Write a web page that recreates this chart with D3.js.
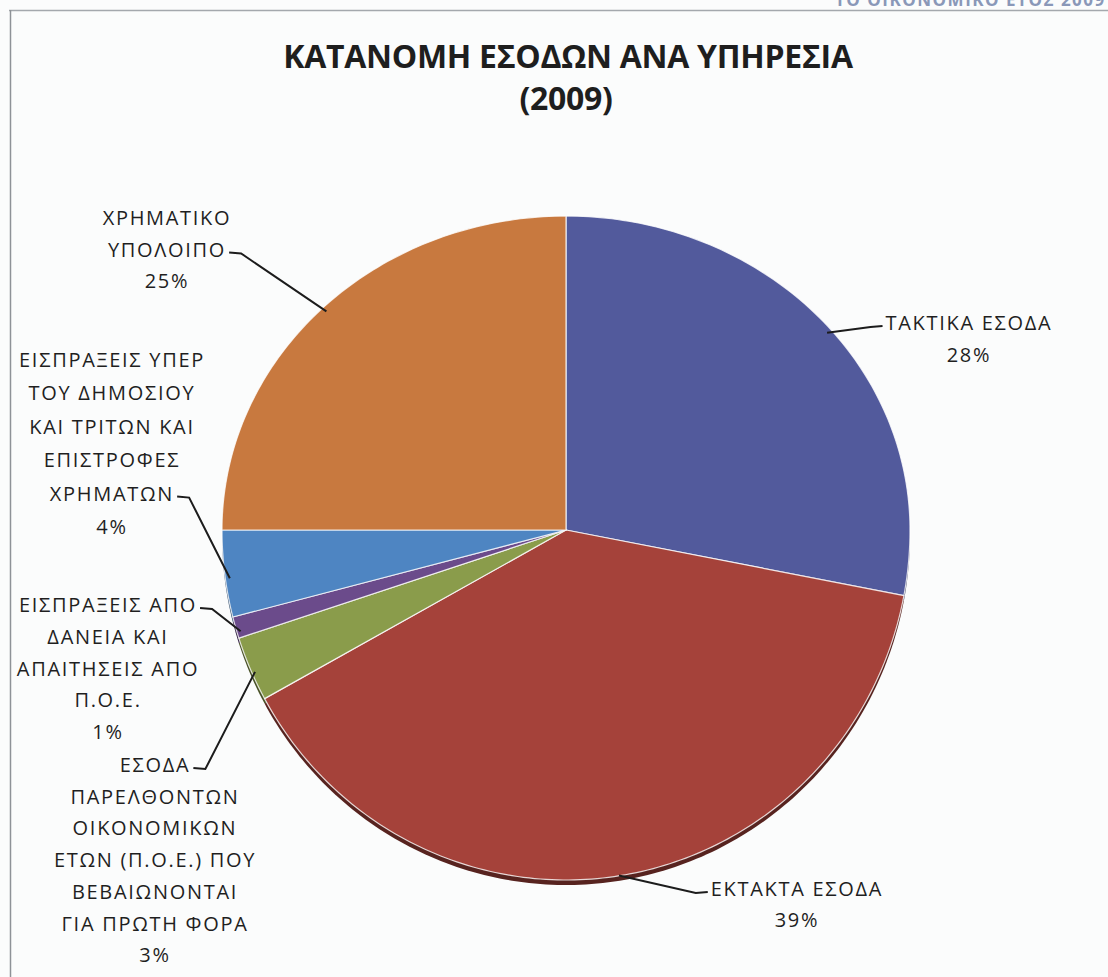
<!DOCTYPE html>
<html lang="el">
<head>
<meta charset="UTF-8">
<title>ΚΑΤΑΝΟΜΗ ΕΣΟΔΩΝ ΑΝΑ ΥΠΗΡΕΣΙΑ (2009)</title>
<style>
*{margin:0;padding:0;box-sizing:border-box}
body{background:#fbfcfc;width:1108px;height:977px;overflow:hidden}
svg{display:block}
</style>
</head>
<body>
<div id="chart"></div>
<script src="https://cdnjs.cloudflare.com/ajax/libs/d3/7.8.5/d3.min.js"></script>
<script>
// data, clockwise from 12 o'clock
const categories = [
  "ΤΑΚΤΙΚΑ ΕΣΟΔΑ",
  "ΕΚΤΑΚΤΑ ΕΣΟΔΑ",
  "ΕΣΟΔΑ ΠΑΡΕΛΘΟΝΤΩΝ ΟΙΚΟΝΟΜΙΚΩΝ ΕΤΩΝ (Π.Ο.Ε.) ΠΟΥ ΒΕΒΑΙΩΝΟΝΤΑΙ ΓΙΑ ΠΡΩΤΗ ΦΟΡΑ",
  "ΕΙΣΠΡΑΞΕΙΣ ΑΠΟ ΔΑΝΕΙΑ ΚΑΙ ΑΠΑΙΤΗΣΕΙΣ ΑΠΟ Π.Ο.Ε.",
  "ΕΙΣΠΡΑΞΕΙΣ ΥΠΕΡ ΤΟΥ ΔΗΜΟΣΙΟΥ ΚΑΙ ΤΡΙΤΩΝ ΚΑΙ ΕΠΙΣΤΡΟΦΕΣ ΧΡΗΜΑΤΩΝ",
  "ΧΡΗΜΑΤΙΚΟ ΥΠΟΛΟΙΠΟ"
];
const percents = [28, 39, 3, 1, 4, 25];
const labelLines = [
  ["ΤΑΚΤΙΚΑ ΕΣΟΔΑ"],
  ["ΕΚΤΑΚΤΑ ΕΣΟΔΑ"],
  ["ΕΣΟΔΑ", "ΠΑΡΕΛΘΟΝΤΩΝ", "ΟΙΚΟΝΟΜΙΚΩΝ", "ΕΤΩΝ (Π.Ο.Ε.) ΠΟΥ", "ΒΕΒΑΙΩΝΟΝΤΑΙ", "ΓΙΑ ΠΡΩΤΗ ΦΟΡΑ"],
  ["ΕΙΣΠΡΑΞΕΙΣ ΑΠΟ", "ΔΑΝΕΙΑ ΚΑΙ", "ΑΠΑΙΤΗΣΕΙΣ ΑΠΟ", "Π.Ο.Ε."],
  ["ΕΙΣΠΡΑΞΕΙΣ ΥΠΕΡ", "ΤΟΥ ΔΗΜΟΣΙΟΥ", "ΚΑΙ ΤΡΙΤΩΝ ΚΑΙ", "ΕΠΙΣΤΡΟΦΕΣ", "ΧΡΗΜΑΤΩΝ"],
  ["ΧΡΗΜΑΤΙΚΟ", "ΥΠΟΛΟΙΠΟ"]
];
const colors = ["#525a9c", "#a5423a", "#8a9c4b", "#6b4b8b", "#4e85c2", "#c8793f"];

// label layout: centre x, first line y, line step, line carrying the leader, side
const labelX = [969, 797, 155, 108, 112, 167];
const labelY = [323, 889, 765, 605, 360, 218];
const labelStep = [32, 31, 31.7, 31.8, 33.4, 31.5];
const leaderLine = [0, 0, 0, 0, 4, 1];
const leaderSide = [-1, -1, 1, 1, 1, 1];

const W = 1108, H = 977;
const cx = 566, cy = 530, rx = 344, ryTop = 314, ryBot = 350, edge = 5;
const font = "'Open Sans','DejaVu Sans',sans-serif";

const svg = d3.select("#chart").append("svg").attr("width", W).attr("height", H);

// page frame
svg.append("rect").attr("width", W).attr("height", H).attr("fill", "#fbfcfc");
svg.append("line").attr("x1", 9).attr("x2", W).attr("y1", 10.5).attr("y2", 10.5).attr("stroke", "#a4a8ad").attr("stroke-width", 1.5);
svg.append("line").attr("x1", 10.5).attr("x2", 10.5).attr("y1", 10).attr("y2", H).attr("stroke", "#8e9297").attr("stroke-width", 1.5);
svg.append("text").attr("x", 835).attr("y", 6).attr("font-family", font).attr("font-weight", 700)
  .attr("font-size", 17).attr("letter-spacing", 1.5).attr("fill", "#8a98b8").text("ΤΟ ΟΙΚΟΝΟΜΙΚΟ ΕΤΟΣ 2009");

// title
const title = svg.append("text").attr("text-anchor", "middle").attr("font-family", font)
  .attr("font-weight", 700).attr("font-size", 32).attr("letter-spacing", -0.3).attr("fill", "#1e1e1e");
title.append("tspan").attr("x", 568).attr("y", 68).text("ΚΑΤΑΝΟΜΗ ΕΣΟΔΩΝ ΑΝΑ ΥΠΗΡΕΣΙΑ");
title.append("tspan").attr("x", 566).attr("y", 110).text("(2009)");

// point on the tilted pie rim, angle from 12 o'clock clockwise
function rim(a, k = 1) {
  const c = Math.cos(a);
  return [cx + k * rx * Math.sin(a), cy - k * (c > 0 ? ryTop : ryBot) * c];
}
function slicePath(d, dy = 0) {
  const n = Math.max(4, Math.ceil((d.endAngle - d.startAngle) * 60));
  const pts = [[cx, cy]].concat(d3.range(n + 1).map(i => rim(d.startAngle + (d.endAngle - d.startAngle) * i / n)));
  return d3.line()(pts.map(p => [p[0], p[1] + dy])) + "Z";
}

const arcs = d3.pie().sort(null).value(d => d)(percents);

// dark rim under the front of the pie
svg.append("g").selectAll("path").data(arcs).join("path")
  .attr("d", d => slicePath(d, edge))
  .attr("fill", (d, i) => d3.color(colors[i]).darker(1.8));

svg.append("g").selectAll("path").data(arcs).join("path")
  .attr("d", d => slicePath(d))
  .attr("fill", (d, i) => colors[i])
  .attr("stroke", "#ffffff").attr("stroke-width", 1.2).attr("stroke-opacity", 0.8)
  .attr("stroke-linejoin", "round");

// labels + leader lines
const lg = svg.append("g").attr("font-family", font).attr("font-size", 20)
  .attr("letter-spacing", 1.7).attr("fill", "#1f1f1f");
arcs.forEach((d, i) => {
  const lines = labelLines[i].concat([percents[i] + "%"]);
  const t = lg.append("text").attr("text-anchor", "middle");
  const spans = lines.map((s, j) => t.append("tspan").attr("x", labelX[i])
    .attr("y", labelY[i] + j * labelStep[i] + 7).text(s));
  const j = leaderLine[i];
  const w = spans[j].node().getComputedTextLength();
  const ly = labelY[i] + j * labelStep[i] + 3;
  const side = leaderSide[i];
  const x0 = labelX[i] + side * (w / 2 + 3);
  const mid = (d.startAngle + d.endAngle) / 2;
  const end = rim(mid, 0.985);
  if (Math.cos(mid) < 0) end[1] += edge;
  svg.append("path")
    .attr("d", d3.line()([[x0, ly], [x0 + side * 12, ly + 1], end]))
    .attr("fill", "none").attr("stroke", "#1c1c1c").attr("stroke-width", 2);
});
</script>
</body>
</html>
